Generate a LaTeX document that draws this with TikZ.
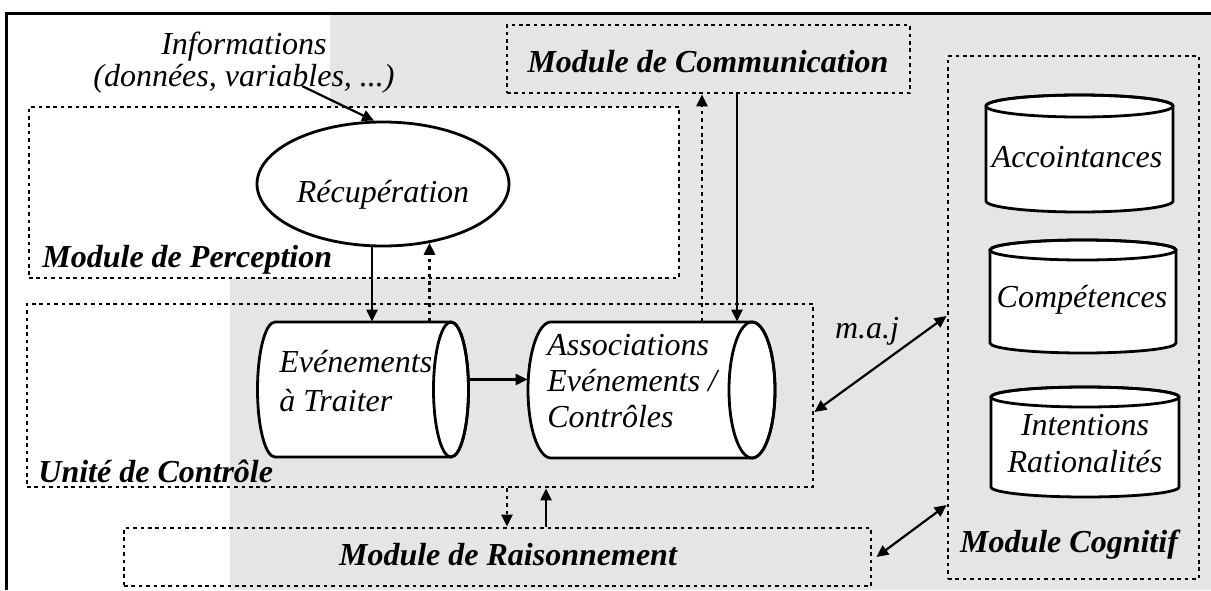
\documentclass[tikz,border=0pt]{standalone}
\usepackage{fontspec}
\setmainfont{Liberation Serif}
\usetikzlibrary{arrows.meta,shapes.geometric,fit,calc}
\begin{document}
\begin{tikzpicture}[x=0.5pt,y=-0.5pt,
  dbox/.style={draw, line width=1.4pt, dash pattern=on 1.8pt off 1.9pt, inner sep=0pt},
  lbl/.style={font=\fontsize{16}{18}\selectfont\bfseries\itshape, inner sep=0pt},
  txt/.style={font=\fontsize{16}{18}\selectfont\itshape, inner sep=0pt},
  shp/.style={draw, line width=1.4pt, fill=white},
  arr/.style={line width=1.1pt, -{Triangle[length=6pt,width=5.5pt]}},
  darr/.style={line width=1.4pt, dash pattern=on 1.8pt off 1.9pt, -{Triangle[length=6pt,width=5.5pt]}},
  barr/.style={line width=1.1pt, {Triangle[length=6pt,width=5.5pt]}-{Triangle[length=6pt,width=5.5pt]}},
  hold/.style={inner sep=0pt, draw=none}]
\useasboundingbox (0,0) rectangle (1211,590);
% background
\fill[white] (0,0) rectangle (1211,590);
\fill[black!10] (6,13) rectangle (1211,590);
\fill[white] (6,13) rectangle (330,107);
\fill[white] (6,107) rectangle (230,590);
% frame
\draw[line width=1.5pt] (6,590) -- (6,13) -- (1211,13);
% module boxes
\node[dbox, fill=white, fit={(29,107) (679,278)}] (perc) {};
\node[dbox, fit={(27,304) (813,487)}] (unite) {};
\node[dbox, fit={(507,25) (910,93)}] (comm) {};
\node[dbox, fit={(124,528) (871,586)}] (raison) {};
\node[dbox, fit={(948,56) (1199,579)}] (cog) {};
% box labels
\node[lbl, anchor=base west] (perclbl) at (42,267) {Module de Perception};
\node[lbl, anchor=base west] (unitelbl) at (38,482) {Unité de Contrôle};
\node[lbl, anchor=base] (commlbl) at (708,72) {Module de Communication};
\node[lbl, anchor=base] (raisonlbl) at (508,565) {Module de Raisonnement};
\node[lbl, anchor=base] (coglbl) at (1069,552) {Module Cognitif};
% informations
\node[txt, align=center, anchor=base, font=\fontsize{16}{14}\selectfont\itshape] (info) at (244,86) {Informations\\(données, variables, ...)};
% recuperation
\node[ellipse, shp, minimum width=126pt, minimum height=62pt, inner sep=0pt,
      font=\fontsize{16}{18}\selectfont\itshape, text height=18pt, text depth=0pt] (recup) at (383,184) {Récupération};
% horizontal cylinders
\draw[shp] (275,322) -- (451,322) arc[start angle=-90, end angle=90, x radius=17.5, y radius=67.5]
  -- (275,457) arc[start angle=90, end angle=270, x radius=17.5, y radius=67.5] -- cycle;
\draw[line width=1.4pt] (451,389.5) ellipse [x radius=17.5, y radius=67.5];
\node[hold, fit={(258,322) (469,457)}] (evt) {};
\node[txt, align=left, anchor=base west, font=\fontsize{16}{19.5}\selectfont\itshape] (evttxt) at (279,411) {Evénements\\à Traiter};
\draw[shp] (551,322) -- (752,322) arc[start angle=-90, end angle=90, x radius=23, y radius=68]
  -- (551,458) arc[start angle=90, end angle=270, x radius=23, y radius=68] -- cycle;
\draw[line width=1.4pt] (752,390) ellipse [x radius=23, y radius=68];
\node[hold, fit={(528,322) (775,458)}] (assoc) {};
\node[txt, align=left, anchor=base west, font=\fontsize{16}{18}\selectfont\itshape] (assoctxt) at (547,427) {Associations\\Evénements /\\Contrôles};
% vertical cylinders
\draw[shp] (986,106) -- (986,201) arc[start angle=180, end angle=0, x radius=93.5, y radius=11]
  -- (1173,106) arc[start angle=0, end angle=-180, x radius=93.5, y radius=11] -- cycle;
\draw[line width=1.4pt] (1079.5,106) ellipse [x radius=93.5, y radius=11];
\node[hold, fit={(986,95) (1173,212)}] (acc) {};
\node[txt, anchor=base] (acctxt) at (1077,167) {Accointances};
\draw[shp] (990,250) -- (990,343) arc[start angle=180, end angle=0, x radius=93, y radius=10]
  -- (1176,250) arc[start angle=0, end angle=-180, x radius=93, y radius=10] -- cycle;
\draw[line width=1.4pt] (1083,250) ellipse [x radius=93, y radius=10];
\node[hold, fit={(990,240) (1176,353)}] (comp) {};
\node[txt, anchor=base] (comptxt) at (1082,307) {Compétences};
\draw[shp] (991,397) -- (991,487) arc[start angle=180, end angle=0, x radius=94, y radius=10]
  -- (1179,397) arc[start angle=0, end angle=-180, x radius=94, y radius=10] -- cycle;
\draw[line width=1.4pt] (1085,397) ellipse [x radius=94, y radius=10];
\node[hold, fit={(991,387) (1179,497)}] (inten) {};
\node[txt, align=center, anchor=base, font=\fontsize{16}{18.5}\selectfont\itshape] (intentxt) at (1085,472) {Intentions\\Rationalités};
% m.a.j
\node[txt, anchor=base] (maj) at (867,338) {m.a.j};
% connectors
\coordinate (infoend) at (302,86);
\draw[arr] (infoend) -- (recup.98);
\coordinate (a1) at ($(recup.south)+(-11,0)$);
\draw[arr] (a1) -- (a1 |- evt.north);
\coordinate (a2) at ($(evt.north)+(66,0)$);
\draw[darr] (a2) -- (a2 |- recup.-51);
\coordinate (a3) at ($(comm.south)+(28.5,0)$);
\draw[arr] (a3) -- (a3 |- assoc.north);
\coordinate (a4) at ($(assoc.north)+(50.5,0)$);
\draw[darr] (a4) -- (a4 |- comm.south);
\coordinate (a5) at ($(evt.east)+(0,-10)$);
\draw[arr] (a5) -- (a5 -| assoc.west);
\coordinate (a6) at ($(unite.south)+(87,0)$);
\draw[darr] (a6) -- (a6 |- raison.north);
\coordinate (a7) at ($(raison.north)+(48.5,0)$);
\draw[arr] (a7) -- (a7 |- unite.south);
\draw[barr] (unite.east |- 0,412) -- (cog.west |- 0,316);
\draw[barr] ($(raison.east |- 0,557)+(4,0)$) -- (cog.west |- 0,505);
\end{tikzpicture}
\end{document}
